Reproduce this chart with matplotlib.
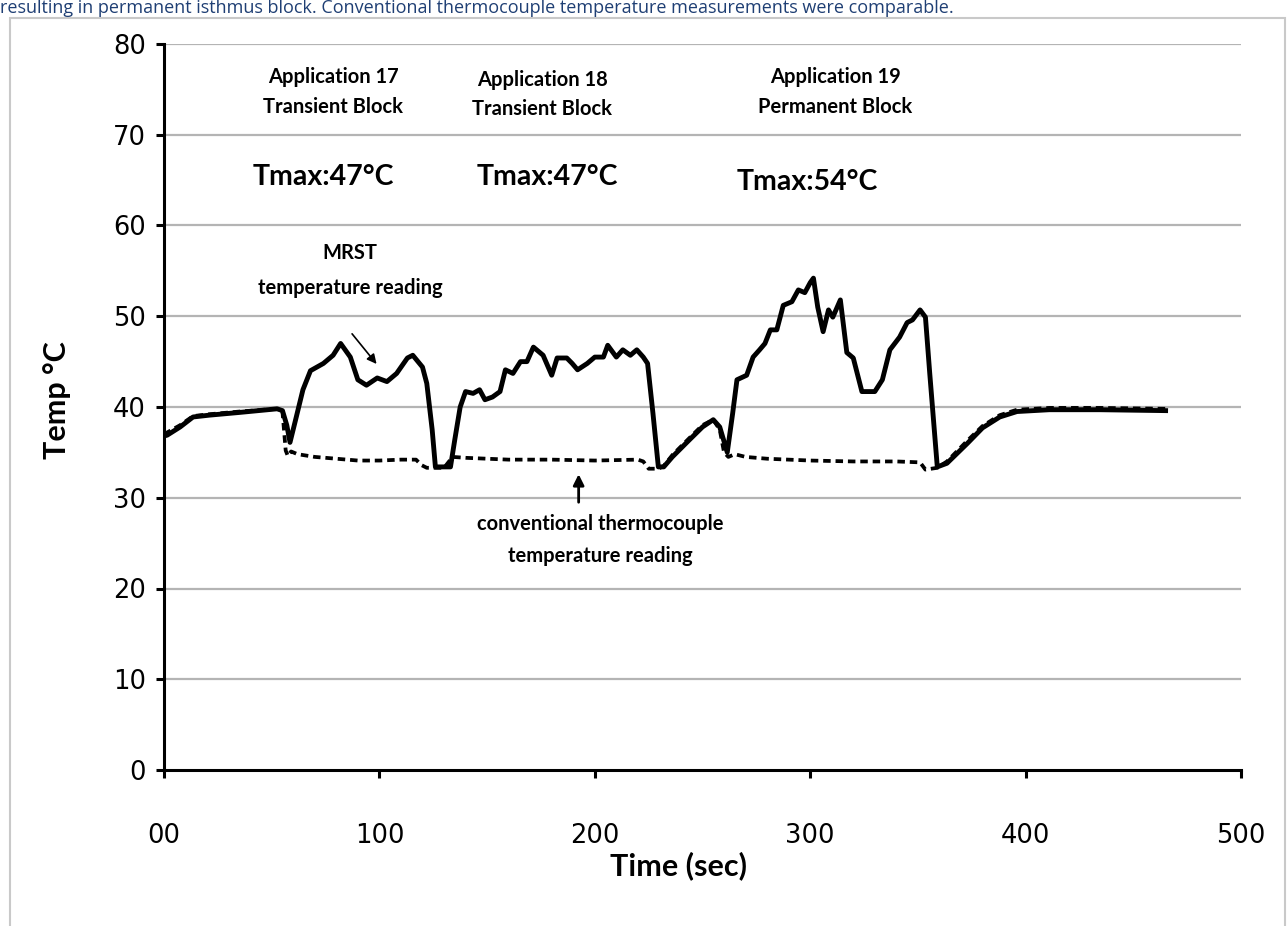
import matplotlib
matplotlib.use("Agg")
import matplotlib.pyplot as plt
from matplotlib.patches import Rectangle

# MRST (solid) temperature reading
mrst_t = [0, 1.5, 7.5, 13.5, 21, 35, 52.5, 55, 57, 58.5, 61, 64.5, 68, 74, 78.5, 82,
          86.5, 90, 94, 99, 103.5, 108, 113, 115.5, 120, 122, 124.5, 126, 133, 135,
          137.5, 140, 143.5, 146.5, 149, 152.5, 156, 158.5, 162, 165.5, 168.5, 171.5,
          176, 180, 182.5, 187, 189.5, 192, 196.5, 200, 204, 206, 210, 213, 216.5,
          219.5, 222.5, 224.5, 227, 229.5, 232, 236, 244, 250, 255, 258, 261.5, 264,
          266, 270.5, 273.5, 276.5, 279, 281.5, 284.5, 287.5, 291.5, 294.5, 297.5,
          300, 301.5, 303.5, 306, 308.5, 310.5, 314, 317, 320, 324, 330, 333.5, 337,
          341.5, 345, 347.5, 351, 353.5, 355.5, 359, 363.5, 373, 380, 388, 396, 411,
          434.5, 465]
mrst_temp = [36.8, 36.9, 37.8, 38.9, 39.1, 39.4, 39.8, 39.6, 38.0, 36.1, 38.5, 41.9,
             44.0, 44.8, 45.7, 47.0, 45.5, 43.0, 42.4, 43.2, 42.8, 43.7, 45.4, 45.7,
             44.4, 42.6, 37.5, 33.4, 33.4, 36.4, 40.0, 41.7, 41.5, 41.9, 40.8, 41.1,
             41.7, 44.1, 43.7, 45.0, 45.0, 46.6, 45.7, 43.5, 45.4, 45.4, 44.8, 44.1,
             44.8, 45.5, 45.5, 46.8, 45.5, 46.3, 45.7, 46.3, 45.5, 44.8, 39.3, 33.4,
             33.4, 34.5, 36.4, 37.8, 38.6, 37.8, 35.0, 39.3, 43.0, 43.5, 45.5, 46.3,
             47.0, 48.5, 48.5, 51.2, 51.6, 52.9, 52.6, 53.7, 54.2, 51.0, 48.3, 50.7,
             49.9, 51.8, 46.0, 45.4, 41.7, 41.7, 43.0, 46.3, 47.7, 49.3, 49.6, 50.7,
             49.9, 43.7, 33.4, 33.8, 36.0, 37.7, 38.9, 39.5, 39.7, 39.7, 39.6]

# conventional thermocouple (dashed) reading
tc_t = [0, 7.5, 13.5, 21, 35, 52.5, 55, 56.5, 57.5, 59, 62, 70, 80, 90, 100, 110,
        117, 119.5, 122, 130, 134, 140, 160, 180, 200, 220, 222.5, 225, 229.5, 232,
        236, 244, 250, 255, 258, 260, 262, 265, 270, 280, 300, 320, 340, 351, 353.5,
        359, 363.5, 373, 380, 388, 396, 411, 434.5, 465]
tc_temp = [37.0, 38.0, 39.0, 39.2, 39.5, 39.8, 39.5, 35.2, 34.6, 35.1, 34.8, 34.5,
           34.3, 34.1, 34.1, 34.2, 34.2, 33.6, 33.3, 33.3, 34.5, 34.4, 34.2, 34.2,
           34.1, 34.2, 34.0, 33.2, 33.2, 33.5, 34.7, 36.6, 38.0, 38.6, 37.5, 35.0,
           34.5, 34.8, 34.5, 34.3, 34.1, 34.0, 34.0, 33.9, 33.1, 33.3, 34.0, 36.3,
           37.9, 39.1, 39.7, 39.9, 39.9, 39.8]

x_ticks = [0, 100, 200, 300, 400, 500]
x_labels = ["00", "100", "200", "300", "400", "500"]
y_ticks = [0, 10, 20, 30, 40, 50, 60, 70, 80]

W, H = 1287, 926
fig = plt.figure(figsize=(W / 100, H / 100), dpi=100)
fig.patch.set_facecolor("white")

# grey frame around the chart and the caption line above it
fig.add_artist(Rectangle((10 / W, -0.05), (1285 - 10) / W, 1.05 - 18 / H,
                         transform=fig.transFigure, fill=False,
                         edgecolor="#c9c9c9", linewidth=1.5))
fig.text(0.0, 1 - 13 / H,
         "resulting in permanent isthmus block. Conventional thermocouple "
         "temperature measurements were comparable.",
         fontsize=13, family="Open Sans", color="#1f3f74", va="baseline")

ax = fig.add_axes([164 / W, 1 - 770 / H, (1241 - 164) / W, (770 - 44) / H])
ax.set_xlim(0, 500)
ax.set_ylim(0, 80)

for y in y_ticks[1:]:
    ax.axhline(y, color="#b4b4b4", linewidth=1.6, zorder=1)

ax.plot(mrst_t, mrst_temp, color="black", linewidth=3.5, zorder=3,
        solid_joinstyle="round")
ax.plot(tc_t, tc_temp, color="black", linewidth=2.7, zorder=4,
        linestyle=(0, (2.0, 1.3)))

ax.spines["top"].set_visible(False)
ax.spines["right"].set_visible(False)
ax.spines["left"].set_linewidth(2.2)
ax.spines["bottom"].set_linewidth(2.2)
ax.set_xticks(x_ticks)
ax.set_xticklabels(x_labels)
ax.set_yticks(y_ticks)
ax.tick_params(axis="both", direction="out", length=6, width=2.2,
               labelsize=18.5, colors="black")
ax.tick_params(axis="x", pad=32)
ax.tick_params(axis="y", pad=7)
for lab in ax.get_xticklabels() + ax.get_yticklabels():
    lab.set_family("DejaVu Sans")

fig.text(57 / W, 1 - 400 / H, "Temp °C", rotation=90, ha="center", va="center",
         fontsize=22, fontweight="bold", family="Lato")
fig.text(678 / W, 1 - 866 / H, "Time (sec)", ha="center", va="center",
         fontsize=22, fontweight="bold", family="Lato")

ann = dict(ha="center", va="center", fontweight="bold", family="Lato",
           transform=fig.transFigure)
for cx, cy, s in [(333, 77, "Application 17"), (333, 107, "Transient Block"),
                  (542, 80, "Application 18"), (542, 109, "Transient Block"),
                  (835, 77, "Application 19"), (835, 107, "Permanent Block")]:
    fig.text(cx / W, 1 - cy / H, s, fontsize=14.5, **ann)
for cx, cy, s in [(323, 177, "Tmax:47°C"), (547, 177, "Tmax:47°C"),
                  (807, 182, "Tmax:54°C")]:
    fig.text(cx / W, 1 - cy / H, s, fontsize=20.5, **ann)
for cx, cy, s in [(350, 253, "MRST"), (350, 288, "temperature reading"),
                  (600, 524, "conventional thermocouple"),
                  (600, 556, "temperature reading")]:
    fig.text(cx / W, 1 - cy / H, s, fontsize=14.5, **ann)

# arrows pointing at the two traces
ax.annotate("", xy=(99.5, 44.5), xytext=(86.5, 48.3),
            arrowprops=dict(arrowstyle="-|>", color="black", lw=1.2,
                            mutation_scale=14))
ax.annotate("", xy=(192.5, 32.9), xytext=(192.5, 29.2),
            arrowprops=dict(arrowstyle="-|>", color="black", lw=2,
                            mutation_scale=16))

fig.savefig("out.png", dpi=100)
